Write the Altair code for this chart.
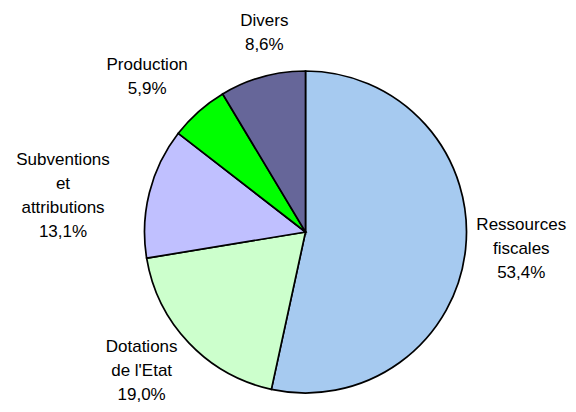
import altair as alt
import pandas as pd

categories = ["Ressources fiscales", "Dotations de l'Etat", "Subventions et attributions", "Production", "Divers"]
label_names = ["Ressources\nfiscales", "Dotations\nde l'Etat", "Subventions\net\nattributions", "Production", "Divers"]
shares = [53.4, 19.0, 13.1, 5.9, 8.6]
colors = ["#A6CAF0", "#CCFFCC", "#C0C0FF", "#00FF00", "#666699"]

df = pd.DataFrame({
    "cat": categories,
    "share": shares,
    "order": list(range(len(categories))),
    "label": [n + "\n" + f"{v:.1f}".replace(".", ",") + "%" for n, v in zip(label_names, shares)],
})

CX, CY, R = 297.5, 224, 161
LH = 24
theta_scale = alt.Scale(domain=[0, 100])

base = alt.Chart(df)

arc = base.mark_arc(stroke="black", strokeWidth=1.7, radius=R).encode(
    theta=alt.Theta("share:Q", stack=True, scale=theta_scale),
    order=alt.Order("order:Q", sort="ascending"),
    color=alt.Color("cat:N", scale=alt.Scale(domain=categories, range=colors), legend=None),
    x=alt.value(CX),
    y=alt.value(CY),
)

# label placement (radius, dx, dy) per category, dy is for the block centre
placement = {
    "Ressources fiscales": (220, -3, -6),
    "Dotations de l'Etat": (222, -3, -14),
    "Subventions et attributions": (245, -5, 24),
    "Production": (222, -11, 11),
    "Divers": (203, 13, -3),
}

label_base = base.transform_window(
    cum="sum(share)", sort=[alt.SortField("order")], frame=[None, 0]
).transform_calculate(mid="datum.cum - datum.share / 2")

layers = [arc]
for cat, lab in zip(categories, df["label"]):
    r, dx, dy = placement[cat]
    nlines = lab.count("\n") + 1
    dy_first = dy - (nlines - 1) * LH / 2
    layers.append(
        label_base.transform_filter(alt.datum.cat == cat).mark_text(
            radius=r, dx=dx, dy=dy_first, fontSize=17, lineHeight=LH, font="Liberation Sans",
            lineBreak="\n", align="center", baseline="middle", color="black",
        ).encode(
            theta=alt.Theta("mid:Q", scale=theta_scale),
            text="label:N",
            x=alt.value(CX),
            y=alt.value(CY),
        )
    )

chart = alt.layer(*layers).properties(
    width=560, height=396, autosize=alt.AutoSizeParams(type="none"), padding=0,
    background="white",
).configure_view(stroke=None)

chart.save("out.html", embed_options={"renderer": "svg", "actions": False})
